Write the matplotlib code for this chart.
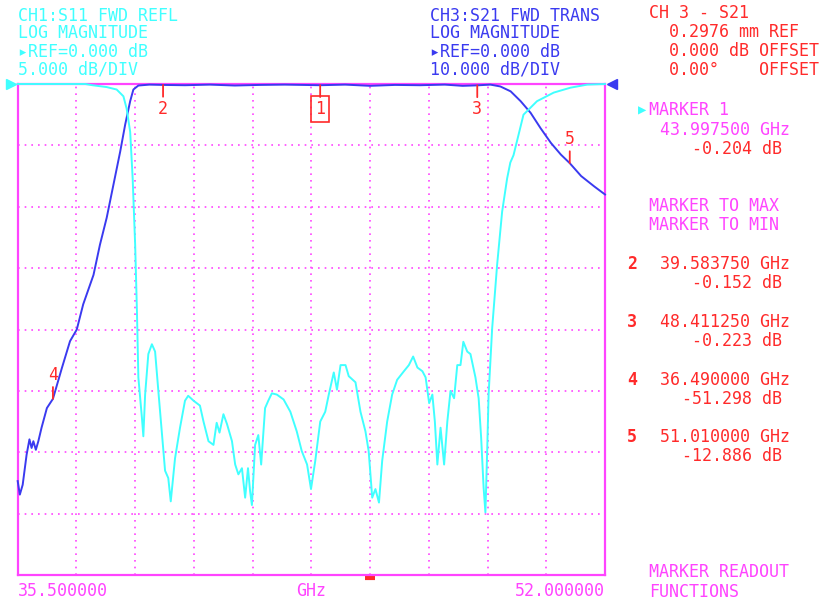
import matplotlib
matplotlib.use("Agg")
import matplotlib.pyplot as plt
import numpy as np

# ---- data ----
f_start, f_stop = 35.5, 52.0

# CH3: S21 forward transmission (dB), 10 dB/div
s21_f = [35.50, 35.56, 35.64, 35.75, 35.83, 35.89, 35.94, 36.01, 36.08, 36.17,
         36.32, 36.49, 36.74, 36.97, 37.16, 37.34, 37.63, 37.81, 38.00, 38.19,
         38.38, 38.52, 38.66, 38.75, 38.89, 39.20, 39.58, 40.20, 40.90, 41.60,
         42.30, 43.00, 44.00, 44.70, 45.40, 46.10, 46.80, 47.50, 48.00, 48.41,
         48.78, 49.06, 49.35, 49.63, 49.91, 50.19, 50.48, 50.76, 51.01, 51.33,
         51.70, 52.00]
s21_db = [-64.7, -66.9, -65.3, -60.4, -57.9, -59.3, -58.2, -59.6, -58.2, -56.0,
          -52.8, -51.3, -46.3, -41.9, -40.0, -35.9, -31.1, -26.2, -21.8, -16.4,
          -11.0, -6.6, -2.8, -0.9, -0.25, -0.1, -0.15, -0.2, -0.1, -0.25,
          -0.15, -0.1, -0.2, -0.1, -0.3, -0.15, -0.2, -0.1, -0.3, -0.22,
          -0.1, -0.4, -1.2, -2.8, -4.7, -7.2, -9.6, -11.5, -12.9, -15.0,
          -16.7, -18.0]

# CH1: S11 forward reflection (dB), 5 dB/div
s11_f = [35.50, 37.40, 37.60, 38.00, 38.28, 38.47, 38.56, 38.66, 38.73, 38.80,
         38.85, 38.89, 38.99, 39.03, 39.08, 39.17, 39.27, 39.36, 39.46, 39.64,
         39.73, 39.80, 39.92, 40.06, 40.20, 40.29, 40.44, 40.62, 40.72, 40.86,
         41.00, 41.09, 41.17, 41.28, 41.38, 41.52, 41.61, 41.70, 41.80, 41.89,
         41.97, 42.03, 42.08, 42.17, 42.26, 42.34, 42.45, 42.54, 42.64, 42.78,
         42.97, 43.16, 43.34, 43.48, 43.63, 43.74, 43.86, 44.00, 44.14, 44.24,
         44.38, 44.47, 44.57, 44.71, 44.80, 44.99, 45.13, 45.27, 45.36, 45.46,
         45.55, 45.65, 45.74, 45.88, 46.02, 46.16, 46.35, 46.49, 46.61, 46.73,
         46.87, 46.96, 47.06, 47.15, 47.22, 47.29, 47.38, 47.48, 47.57, 47.66,
         47.76, 47.85, 47.94, 48.02, 48.13, 48.22, 48.36, 48.45, 48.52, 48.59,
         48.64, 48.69, 48.73, 48.83, 48.97, 49.11, 49.25, 49.34, 49.43, 49.71,
         50.09, 50.56, 51.03, 51.50, 52.00]
s11_db = [0.0, 0.0, -0.1, -0.25, -0.45, -1.0, -2.0, -3.9, -7.7, -13.1,
          -18.5, -23.9, -27.2, -28.7, -25.3, -22.0, -21.2, -21.8, -25.3, -31.5,
          -32.1, -34.0, -30.5, -28.0, -25.8, -25.4, -25.8, -26.2, -27.5, -29.1,
          -29.4, -27.6, -28.4, -26.9, -27.7, -29.1, -31.0, -31.8, -31.3, -33.7,
          -31.3, -33.2, -34.3, -29.4, -28.6, -31.0, -26.4, -25.8, -25.2, -25.3,
          -25.7, -26.7, -28.3, -29.9, -31.0, -33.0, -30.7, -27.5, -26.7, -25.3,
          -23.5, -24.9, -22.9, -22.9, -23.8, -24.3, -26.7, -28.3, -29.9, -33.7,
          -33.0, -34.1, -30.7, -27.5, -25.3, -24.1, -23.4, -22.9, -22.2, -23.1,
          -23.4, -23.9, -26.0, -25.3, -27.5, -31.0, -28.0, -31.0, -27.5, -25.0,
          -25.6, -22.9, -22.9, -21.0, -21.8, -22.0, -23.9, -25.6, -28.8, -32.9,
          -34.9, -29.9, -25.3, -19.9, -14.7, -10.4, -7.7, -6.4, -5.8, -2.5,
          -1.4, -0.7, -0.3, -0.05, 0.0]

# markers on S21
mk_labels = ["1", "2", "3", "4", "5"]
mk_f = [43.9975, 39.58375, 48.41125, 36.49, 51.01]
mk_db = [-0.204, -0.152, -0.223, -51.298, -12.886]

CYAN = "#40ffff"
BLUE = "#3a3af0"
MAG = "#ff44ff"
RED = "#ff2a2a"
MONO = "DejaVu Sans Mono"

fig = plt.figure(figsize=(8.23, 6.03), dpi=100)
W, H = 823.0, 603.0


def px(x, y):
    return x / W, 1 - y / H


ax = fig.add_axes([17.7 / W, 1 - 575 / H, 587.3 / W, 491 / H])
ax.set_xlim(f_start, f_stop)
ax.set_ylim(-80, 0)
ax.set_xticks(np.linspace(f_start, f_stop, 11))
ax.set_yticks(np.arange(-80, 1, 10))
ax.grid(True, color=MAG, linestyle=(0, (1, 3)), linewidth=1.2)
ax.tick_params(length=0, labelbottom=False, labelleft=False)
for s in ax.spines.values():
    s.set_color(MAG)
    s.set_linewidth(1.6)

ax2 = ax.twinx()
ax2.set_ylim(-40, 0)
ax2.set_yticks([])
ax2.axis("off")

ax2.plot(s11_f, s11_db, color=CYAN, lw=1.4, zorder=3, clip_on=False)
ax.plot(s21_f, s21_db, color=BLUE, lw=1.4, zorder=3, clip_on=False)

# marker flags
for lab, f, v in zip(mk_labels, mk_f, mk_db):
    sgn = -1 if v > -5 else 1
    ax.annotate("", xy=(f, v), xytext=(0, sgn * 8.5), textcoords="offset points",
                arrowprops=dict(arrowstyle="-", color=RED, lw=1.3,
                                shrinkA=0, shrinkB=0))
    box = None
    if lab == "1":
        box = dict(boxstyle="square,pad=0.22", fc="none", ec=RED, lw=1.2)
    ax.annotate(lab, xy=(f, v), xytext=(0, sgn * 17), textcoords="offset points",
                ha="center", va="center", color=RED, fontsize=12, family=MONO,
                bbox=box, zorder=5)

# reference arrows and sweep dash
ax.plot([-0.012], [1.0], marker=">", color=CYAN, ms=7, transform=ax.transAxes,
        clip_on=False)
ax2.plot([1.012], [1.0], marker="<", color=BLUE, ms=7, transform=ax.transAxes,
         clip_on=False)
ax.plot([0.592, 0.608], [-0.006, -0.006], color=RED, lw=3, transform=ax.transAxes,
        clip_on=False, solid_capstyle="butt")

fs = 12
# channel headers
for i, t in enumerate(["CH1:S11 FWD REFL", "LOG MAGNITUDE", "\u25b8REF=0.000 dB",
                       "5.000 dB/DIV"]):
    fig.text(*px(17.7, [15.7, 33.3, 51.7, 70][i]), t, color=CYAN, fontsize=fs,
             family=MONO, va="center")
for i, t in enumerate(["CH3:S21 FWD TRANS", "LOG MAGNITUDE", "\u25b8REF=0.000 dB",
                       "10.000 dB/DIV"]):
    fig.text(*px(430, [15.7, 33.3, 51.7, 70][i]), t, color=BLUE, fontsize=fs,
             family=MONO, va="center")

fig.text(*px(649, 13.3), "CH 3 - S21", color=RED, fontsize=fs, family=MONO, va="center")
fig.text(*px(669, 32.3), "0.2976 mm REF", color=RED, fontsize=fs, family=MONO, va="center")
fig.text(*px(669, 50.7), "0.000 dB OFFSET", color=RED, fontsize=fs, family=MONO, va="center")
fig.text(*px(669, 70), "0.00\u00b0    OFFSET", color=RED, fontsize=fs, family=MONO, va="center")

# marker readout
fig.text(*px(638, 110), "\u25b6", color=CYAN, fontsize=10, family=MONO, va="center")
fig.text(*px(649, 110), "MARKER 1", color=MAG, fontsize=fs, family=MONO, va="center")
fig.text(*px(660, 130), "%.6f GHz" % mk_f[0], color=MAG, fontsize=fs, family=MONO, va="center")
fig.text(*px(782, 149.3), "%.3f dB" % mk_db[0], color=RED, fontsize=fs, family=MONO,
         va="center", ha="right")
fig.text(*px(649, 205.7), "MARKER TO MAX", color=MAG, fontsize=fs, family=MONO, va="center")
fig.text(*px(649, 225), "MARKER TO MIN", color=MAG, fontsize=fs, family=MONO, va="center")

rows_y = [264, 321.7, 380, 436.7]
for lab, f, v, y in zip(mk_labels[1:], mk_f[1:], mk_db[1:], rows_y):
    fig.text(*px(627, y), lab, color=RED, fontsize=fs, family=MONO,
             fontweight="bold", va="center")
    fig.text(*px(660, y), "%.6f GHz" % f, color=RED, fontsize=fs, family=MONO,
             va="center")
    fig.text(*px(782, y + 19.3), "%.3f dB" % v, color=RED, fontsize=fs, family=MONO,
             va="center", ha="right")

# bottom annotations
fig.text(*px(17.7, 591), "35.500000", color=MAG, fontsize=fs, family=MONO, va="center")
fig.text(*px(311, 591), "GHz", color=MAG, fontsize=fs, family=MONO, va="center", ha="center")
fig.text(*px(605, 591), "52.000000", color=MAG, fontsize=fs, family=MONO, va="center", ha="right")
fig.text(*px(649, 572), "MARKER READOUT", color=MAG, fontsize=fs, family=MONO, va="center")
fig.text(*px(649, 592), "FUNCTIONS", color=MAG, fontsize=fs, family=MONO, va="center")

fig.savefig("out.png", dpi=100, facecolor="white")
